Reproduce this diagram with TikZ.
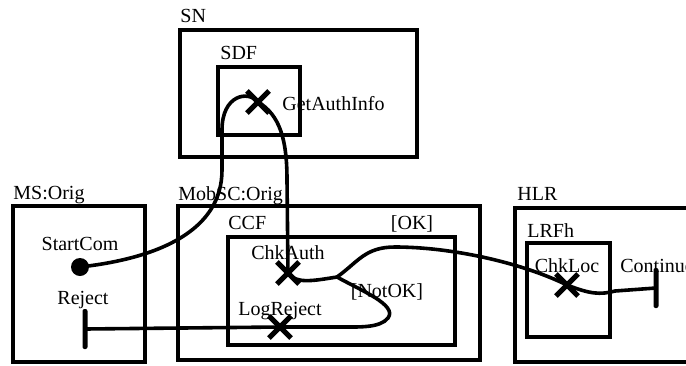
\documentclass[tikz,border=0pt]{standalone}
\usepackage{fontspec}
\setmainfont{Liberation Serif}
\usetikzlibrary{shapes.misc}

\begin{document}
\begin{tikzpicture}[
  x=0.5pt, y=-0.5pt,
  box/.style={draw, line width=2.2pt},
  lbl/.style={anchor=base west, inner sep=0pt, font=\fontsize{10}{12}\selectfont},
  clbl/.style={lbl, anchor=base},
  point/.style={draw, cross out, line width=2.6pt, minimum size=8.5pt, inner sep=0pt},
  startdot/.style={circle, fill, minimum size=9pt, inner sep=0pt},
  endbar/.style={rectangle, fill, rounded corners=1pt, minimum width=2.5pt, minimum height=20pt, inner sep=0pt},
  flow/.style={line width=1.8pt}
]
\useasboundingbox (0,0) rectangle (686,365);
\draw[box] (180,30) rectangle (417,157);
\draw[box] (218,67) rectangle (300,135);
\draw[box] (13,206) rectangle (145,362);
\draw[box] (178,206) rectangle (480,360);
\draw[box] (228,237) rectangle (455,345);
\draw[box] (515,208) rectangle (710,362);
\draw[box] (527,243) rectangle (610,337);
\node[lbl] (sn) at (180,22) {SN};
\node[lbl] (sdf) at (220,59) {SDF};
\node[lbl] (getlbl) at (282,110) {GetAuthInfo};
\node[lbl] (ms) at (13,199) {MS:Orig};
\node[clbl] (startlbl) at (80,250) {StartCom};
\node[clbl] (rejlbl) at (83,304) {Reject};
\node[lbl] (mobsc) at (178,200) {MobSC:Orig};
\node[lbl] (ccf) at (228,229) {CCF};
\node[clbl] (ok) at (412,229) {[OK]};
\node[clbl] (authlbl) at (288,259) {ChkAuth};
\node[clbl] (notok) at (387,297) {[NotOK]};
\node[clbl] (loglbl) at (280,315) {LogReject};
\node[lbl] (hlr) at (517,200) {HLR};
\node[lbl] (lrfh) at (527,237) {LRFh};
\node[clbl] (loclbl) at (567,272) {ChkLoc};
\node[lbl] (contlbl) at (620,272) {Continue};
\node[startdot] (start) at (80,267) {};
\node[point] (get) at (258,102) {};
\node[point] (auth) at (288,273) {};
\node[point] (logrej) at (280,327) {};
\node[point] (loc) at (567,285) {};
\node[endbar] (rej) at (85,329) {};
\node[endbar] (cont) at (656,288) {};
\coordinate (split) at (337,277);
\draw[flow] (start.center) .. controls (160,258) and (222,230) .. (222,170)
  -- (222,130) .. controls (222,95) and (248,90) .. (get.center)
  .. controls (280,115) and (287,140) .. (287,180) -- (auth.center)
  .. controls (296,284) and (312,281) .. (split);
\draw[flow] (split) .. controls (358,262) and (365,247) .. (395,247)
  .. controls (450,247) and (520,262) .. (loc.center)
  .. controls (590,294) and (600,295) .. (615,291) -- (cont.center);
\draw[flow] (split) .. controls (360,290) and (398,305) .. (388,318)
  .. controls (380,328) and (360,327) .. (340,327) -- (logrej.center) -- (rej.center);
\end{tikzpicture}
\end{document}
